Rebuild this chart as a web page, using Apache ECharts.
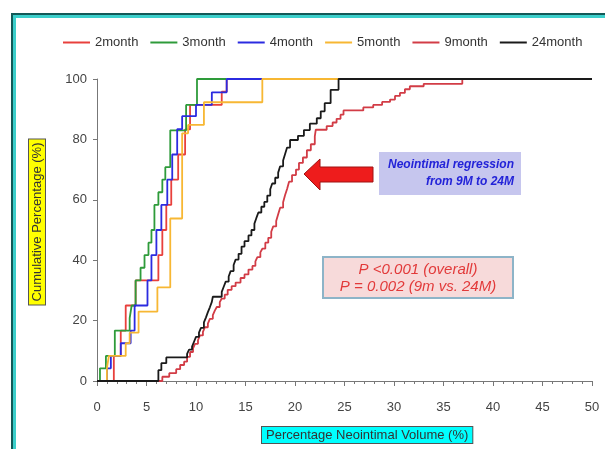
<!DOCTYPE html>
<html>
<head>
<meta charset="utf-8">
<script src="https://cdn.jsdelivr.net/npm/echarts@6/dist/echarts.min.js"></script>
<style>
  html, body { margin: 0; padding: 0; background: #fff; }
  #frame {
    position: absolute; left: 11px; top: 13px; width: 640px; height: 480px;
    border: 2px solid #125a58; box-shadow: inset 3px 3px 0 #3ccfcb;
  }
  #myCharts { position: absolute; left: 0; top: 0; width: 605px; height: 449px; }
</style>
</head>
<body>
<div id="frame"></div>
<div id="myCharts"></div>
<script>
// 数据：x = 新生内膜体积百分比, y = 累计百分比
const seriesNames = ["2month", "3month", "4month", "5month", "9month", "24month"];
const seriesColors = ["#e8403c", "#2e9b3a", "#2b2be0", "#f7b733", "#d23c46", "#1a1a1a"];
const xTicks = [0, 5, 10, 15, 20, 25, 30, 35, 40, 45, 50];
const yTicks = [0, 20, 40, 60, 80, 100];

const months2 = [[0,0],[1.7,8.3],[2.4,16.7],[2.9,25],[3.9,33.3],[6.2,41.7],[6.6,50],[7.0,58.3],[7.5,66.7],[8.2,75],[8.9,83.3],[9.4,91.4],[12.6,95.8],[13.1,100]];
const months3 = [[0,0],[0.3,4.2],[0.9,8.3],[1.8,16.7],[3.3,20.8],[3.5,25],[3.9,33.3],[4.4,37.5],[4.8,41.7],[5.2,45.8],[5.5,50],[5.8,58.3],[6.2,62.5],[6.6,66.7],[6.9,70.8],[7.4,83],[9.0,91.4],[10.1,100],[13.1,100]];
const months4 = [[0,0],[1.0,4.2],[1.4,8.3],[2.4,12.5],[3.4,16.7],[3.8,25],[5.1,33.3],[5.5,41.7],[6.0,50],[6.5,58.3],[7.1,66.7],[7.6,75],[8.1,83.4],[8.6,87.7],[10.0,91.4],[11.6,95.6],[13.1,100],[16.7,100]];
const months5 = [[0,0],[1.0,4.2],[1.2,8.3],[2.9,12.5],[3.3,16.0],[4.2,23.0],[6.1,31.0],[7.4,53.8],[8.6,82.0],[9.2,84.8],[10.8,92.3],[16.7,100],[24.6,100]];
const months9 = [[0,0],[6.6,1.4],[7.3,2.6],[8.0,3.9],[8.4,5.3],[8.8,6.4],[9.1,8.0],[9.4,9.6],[9.7,10.8],[9.9,12.3],[10.2,13.5],[10.4,15.1],[10.7,16.3],[10.9,17.8],[11.2,19.0],[11.4,20.6],[11.7,21.8],[11.9,23.3],[12.1,24.5],[12.4,26.1],[12.6,27.3],[12.9,28.6],[13.2,30.2],[13.6,31.4],[14.0,32.6],[14.5,34.1],[14.9,35.3],[15.3,36.9],[15.7,38.1],[16.0,39.6],[16.2,41.0],[16.5,42.6],[16.7,43.8],[17.0,45.8],[17.3,47.4],[17.6,49.4],[17.8,51.2],[18.1,53.0],[18.3,55.2],[18.5,57.4],[18.8,59.2],[19.0,61.6],[19.2,63.6],[19.4,66.0],[19.7,68.2],[20.1,70.0],[20.4,72.2],[20.8,74.0],[21.2,76.4],[21.6,78.4],[22.0,81.0],[22.1,83.2],[23.2,84.4],[23.8,85.6],[24.2,86.8],[24.6,88.2],[24.9,89.6],[26.9,90.6],[27.9,91.4],[28.8,92.4],[29.6,93.2],[30.1,94.4],[30.6,95.4],[31.1,96.6],[31.6,97.6],[33.0,98.4],[36.9,100],[50,100]];
const months24 = [[0,0],[6.2,3.6],[6.5,5.9],[7.0,7.8],[9.1,9.0],[9.3,10.4],[9.6,11.4],[9.8,13.0],[10.0,14.6],[10.3,16.0],[10.5,17.6],[10.8,19.4],[11.0,21.0],[11.2,22.8],[11.4,24.4],[11.6,26.2],[11.7,27.9],[12.6,29.5],[12.8,31.2],[13.0,32.9],[13.3,34.6],[13.5,36.4],[13.8,38.4],[14.0,40.2],[14.3,42.1],[14.6,44.5],[14.9,46.3],[15.3,48.2],[15.6,50.0],[15.9,52.1],[16.1,54.0],[16.3,55.8],[16.6,57.7],[16.9,59.3],[17.2,61.4],[17.5,63.5],[17.7,65.4],[18.0,67.3],[18.3,69.0],[18.5,71.1],[18.8,73.0],[19.0,75.2],[19.2,77.3],[19.5,79.8],[20.3,81.2],[20.9,83.1],[21.5,85.2],[22.2,87.0],[22.6,89.3],[23.0,92.0],[23.6,96.4],[24.4,100],[50,100]];

const seriesData = [months2, months3, months4, months5, months9, months24];

const myCharts = echarts.init(document.getElementById("myCharts"));
const font = "Liberation Sans, Arial, sans-serif";

const option = {
  animation: false,
  backgroundColor: "transparent",
  color: seriesColors,
  legend: {
    data: seriesNames,
    left: 58,
    top: 31,
    icon: "rect",
    itemWidth: 27,
    itemHeight: 2,
    itemGap: 12,
    textStyle: { color: "#333", fontSize: 13, fontFamily: font }
  },
  grid: { left: 97, right: 13, top: 79, bottom: 68 },
  xAxis: {
    type: "value",
    min: 0,
    max: 50,
    interval: 5,
    offset: 7,
    axisLine: { lineStyle: { color: "#777" } },
    axisTick: { length: 5, lineStyle: { color: "#777" } },
    minorTick: { show: true, splitNumber: 5, length: 3, lineStyle: { color: "#777" } },
    splitLine: { show: false },
    axisLabel: {
      margin: 13, color: "#444", fontSize: 13, fontFamily: font,
      formatter: v => (xTicks.indexOf(v) >= 0 ? String(v) : "")
    }
  },
  yAxis: {
    type: "value",
    min: 0,
    max: 100,
    interval: 20,
    offset: 3,
    axisLine: { show: true, lineStyle: { color: "#777" } },
    axisTick: { show: true, length: 4, lineStyle: { color: "#777" } },
    splitLine: { show: false },
    axisLabel: {
      margin: 7, color: "#444", fontSize: 13, fontFamily: font,
      formatter: v => (yTicks.indexOf(v) >= 0 ? String(v) : "")
    }
  },
  series: seriesNames.map((name, i) => ({
    name: name,
    type: "line",
    step: "end",
    showSymbol: false,
    symbol: "none",
    data: seriesData[i],
    lineStyle: { width: 1.8, color: seriesColors[i] },
    itemStyle: { color: seriesColors[i] }
  })),
  graphic: [
    // 箭头
    {
      type: "polygon",
      shape: { points: [[304,174],[320,159],[320,167],[373,167],[373,182],[320,182],[320,190]] },
      style: { fill: "#ee1c1c", stroke: "#a01212", lineWidth: 1 }
    },
    // 蓝色说明框
    {
      type: "rect",
      shape: { x: 379, y: 152, width: 142, height: 43 },
      style: { fill: "#c6c6ee" }
    },
    {
      type: "text",
      style: { text: "Neointimal regression", x: 514, y: 165, textAlign: "right", textVerticalAlign: "middle",
        fill: "#2323d8", font: "italic bold 12px " + font }
    },
    {
      type: "text",
      style: { text: "from 9M to 24M", x: 514, y: 182, textAlign: "right", textVerticalAlign: "middle",
        fill: "#2323d8", font: "italic bold 12px " + font }
    },
    // P 值框
    {
      type: "rect",
      shape: { x: 323, y: 257, width: 190, height: 41 },
      style: { fill: "#f7dada", stroke: "#8db4c8", lineWidth: 2 }
    },
    {
      type: "text",
      style: { text: "P <0.001 (overall)", x: 418, y: 270, textAlign: "center", textVerticalAlign: "middle",
        fill: "#e23a3a", font: "italic 15px " + font }
    },
    {
      type: "text",
      style: { text: "P = 0.002 (9m vs. 24M)", x: 418, y: 287, textAlign: "center", textVerticalAlign: "middle",
        fill: "#e23a3a", font: "italic 15px " + font }
    },
    // 坐标轴标题
    {
      type: "text",
      x: 37, y: 222, rotation: Math.PI / 2,
      style: { text: "Cumulative Percentage (%)", x: 0, y: 0, textAlign: "center", textVerticalAlign: "middle",
        fill: "#333", font: "13px " + font, backgroundColor: "#ffff00", borderColor: "#555", borderWidth: 1,
        padding: [2, 3, 1, 3] }
    },
    {
      type: "text",
      style: { text: "Percentage Neointimal Volume (%)", x: 262, y: 435, textAlign: "left", textVerticalAlign: "middle",
        fill: "#333", font: "13px " + font, backgroundColor: "#00ffff", borderColor: "#555", borderWidth: 1,
        padding: [2, 4, 1, 4] }
    }
  ]
};
myCharts.setOption(option);
</script>
</body>
</html>
